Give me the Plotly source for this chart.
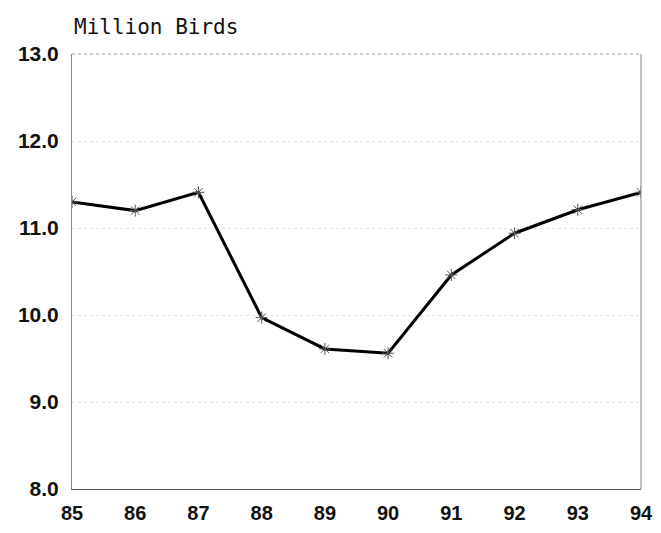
import plotly.graph_objects as go

# Annual totals, million birds
years = [85, 86, 87, 88, 89, 90, 91, 92, 93, 94]
birds = [11.30, 11.20, 11.41, 9.97, 9.61, 9.56, 10.46, 10.94, 11.21, 11.41]

y_ticks = [8, 9, 10, 11, 12, 13]
y_tick_labels = ["8.0", "9.0", "10.0", "11.0", "12.0", "13.0"]

fig = go.Figure()
fig.add_trace(go.Scatter(
    x=years, y=birds, mode="lines+markers",
    line=dict(color="#000000", width=3),
    marker=dict(symbol="asterisk-open", size=10, color="#555555",
                line=dict(color="#555555", width=1)),
    showlegend=False,
))

fig.update_xaxes(
    range=[85, 94], tickmode="array", tickvals=years,
    ticktext=[str(v) for v in years],
    showgrid=False, zeroline=False, automargin=False,
    showline=True, linecolor="#555555", linewidth=1,
    ticks="", ticklabelstandoff=6,
    tickfont=dict(family="Liberation Sans", size=20, color="#111111", weight="bold"),
)
fig.update_yaxes(
    range=[8, 13], tickmode="array", tickvals=y_ticks, ticktext=y_tick_labels,
    showgrid=True, gridcolor="#e2e2e2", gridwidth=1, griddash="dot",
    zeroline=False, showline=True, linecolor="#888888", linewidth=1,
    automargin=False, ticks="", ticklabelstandoff=8,
    tickfont=dict(family="Liberation Sans", size=21, color="#111111", weight="bold"),
)

# Frame: dotted top edge, plain right edge
fig.add_shape(type="line", xref="paper", yref="paper", x0=0, x1=1, y0=1, y1=1,
              line=dict(color="#999999", width=1, dash="dot"))
fig.add_shape(type="line", xref="paper", yref="paper", x0=1, x1=1, y0=0, y1=1,
              line=dict(color="#888888", width=1))

fig.add_annotation(
    text="Million Birds", xref="paper", yref="paper", x=0, y=1.062,
    xanchor="left", yanchor="middle", showarrow=False,
    font=dict(family="DejaVu Sans Mono", size=21, color="#111111"),
)

fig.update_layout(
    width=661, height=533,
    margin=dict(l=72, r=20, t=54, b=44),
    paper_bgcolor="white", plot_bgcolor="white",
)

fig.write_html("out.html")
